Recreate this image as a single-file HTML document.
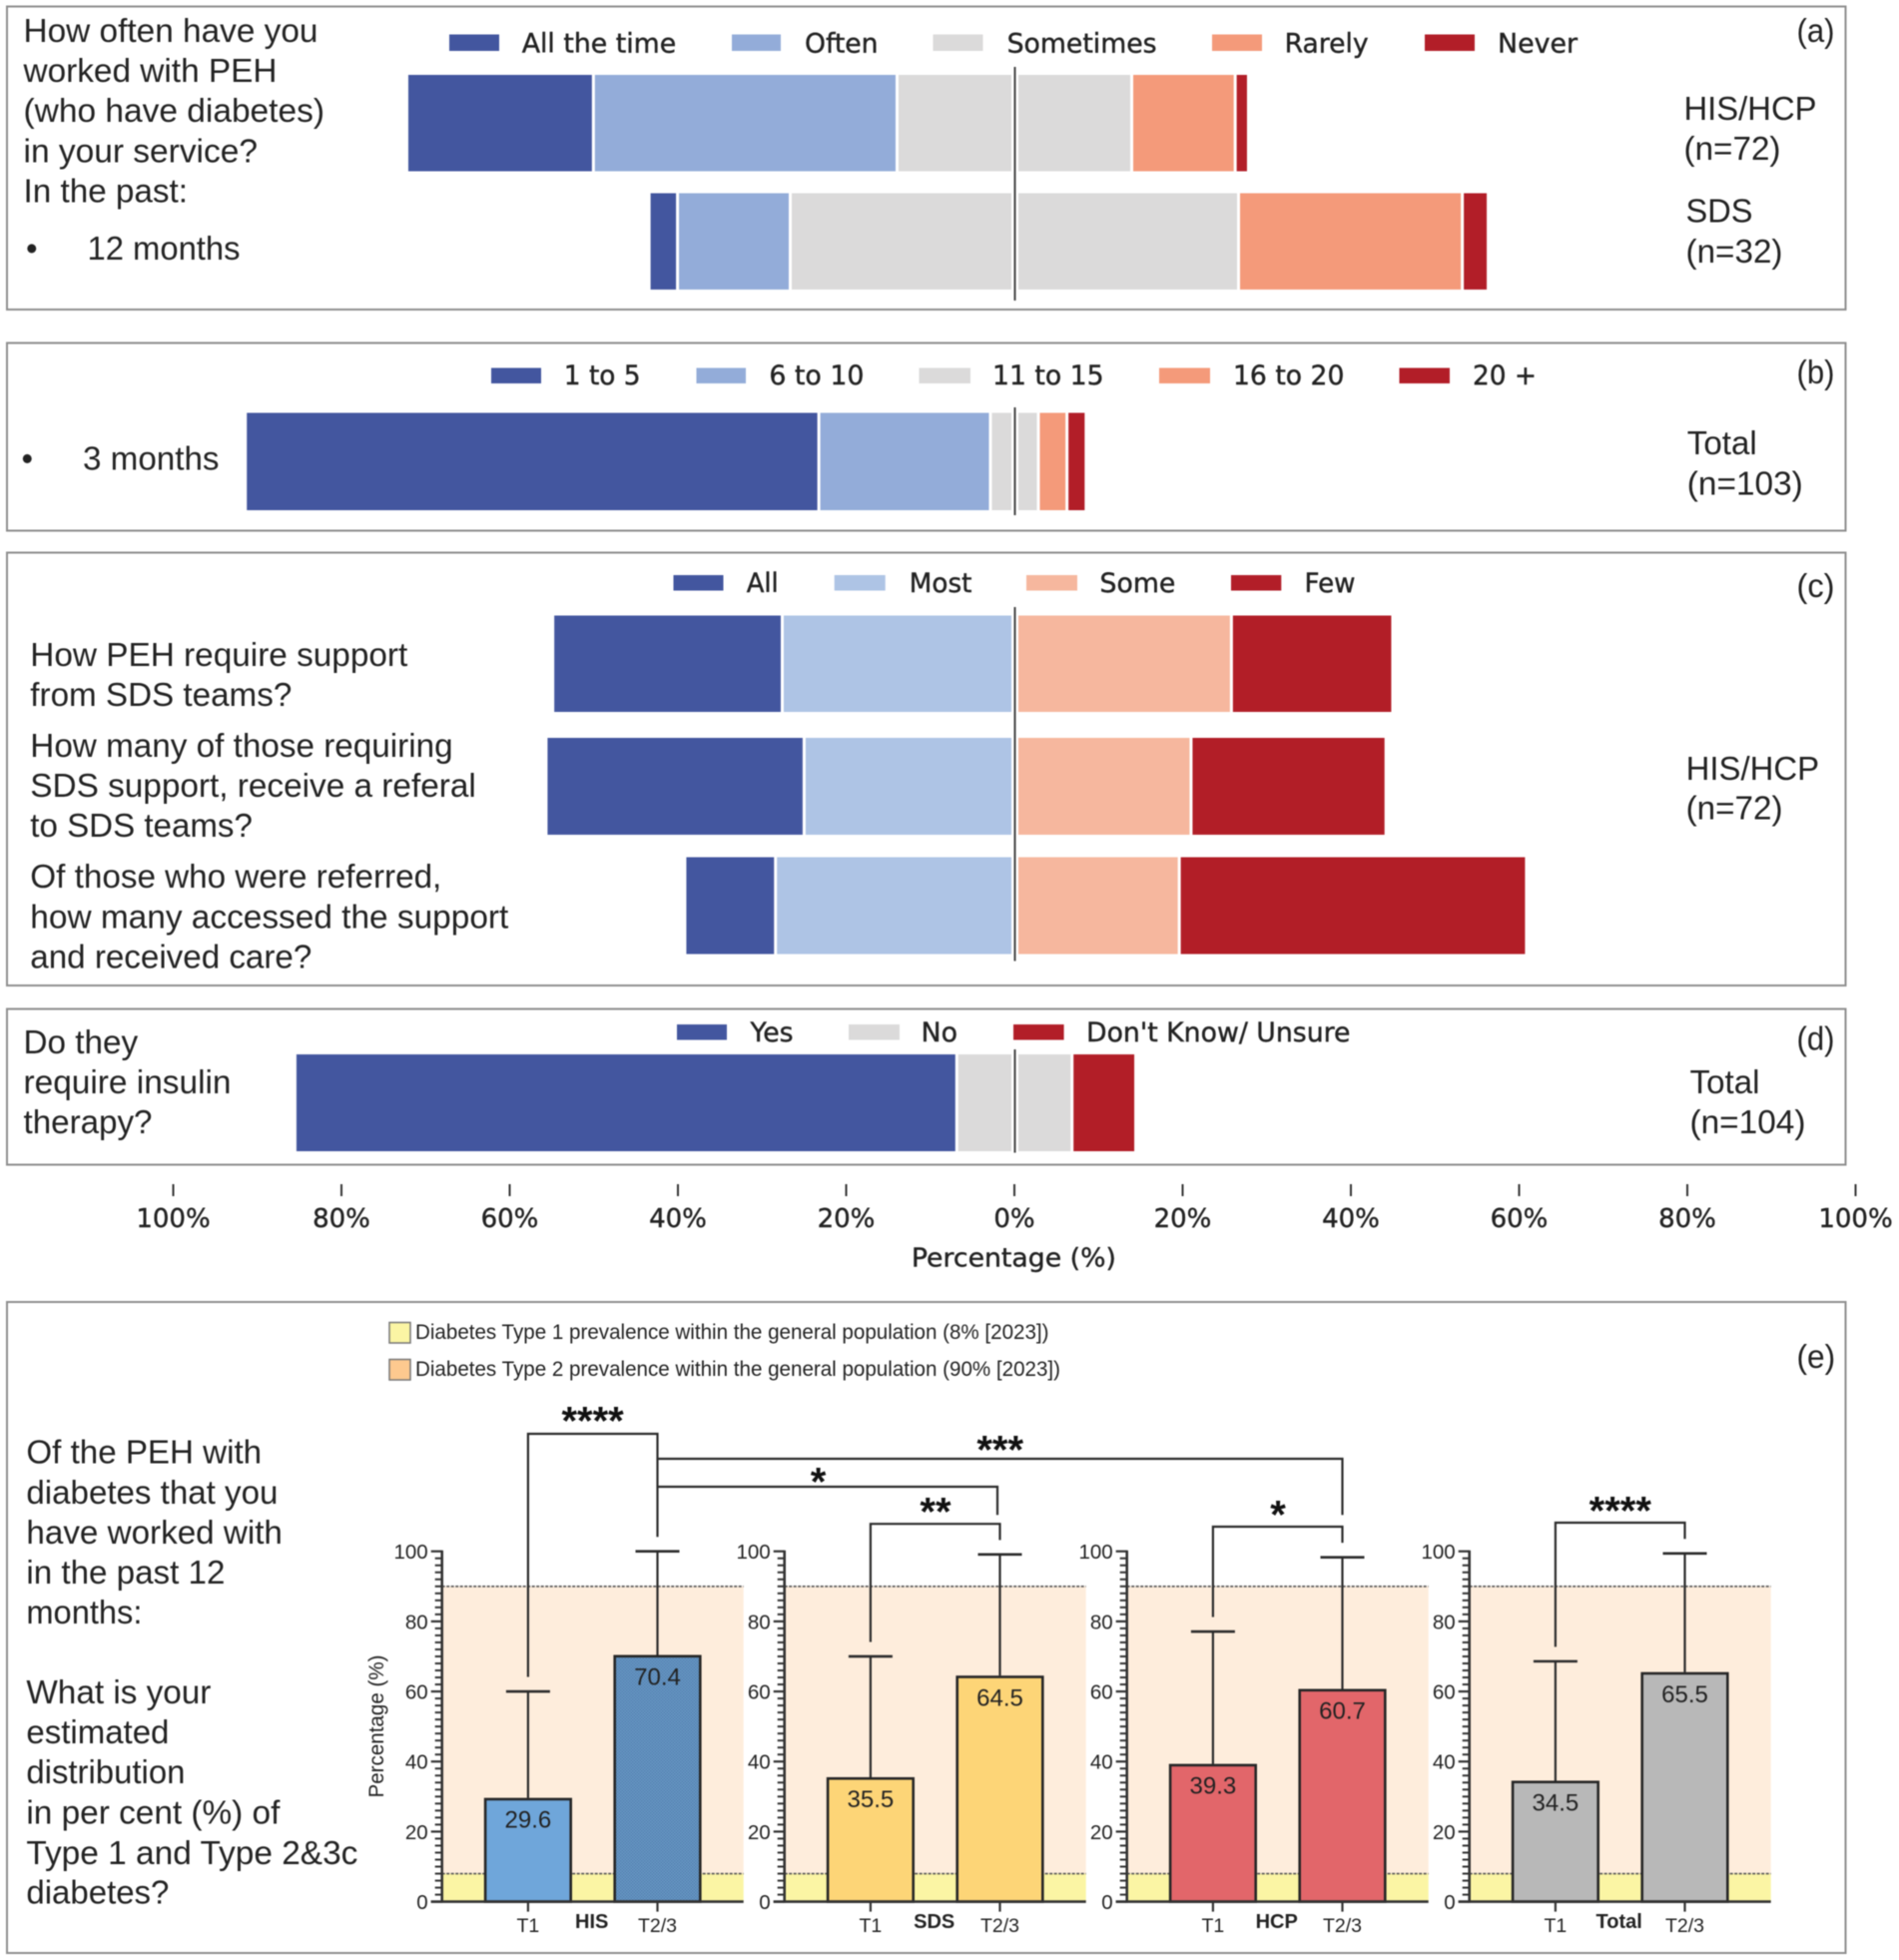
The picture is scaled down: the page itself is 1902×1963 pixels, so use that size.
<!DOCTYPE html>
<html lang="en">
<head>
<meta charset="utf-8">
<title>Likert survey panels and diabetes type distribution</title>
<style>
html,body{margin:0;padding:0;background:#fff;width:1902px;height:1963px;overflow:hidden}
svg{display:block;filter:blur(.5px)}
text{fill:#222;white-space:pre}
.a{font-family:"Liberation Sans",Arial,sans-serif;font-size:33px}
.d{font-family:"DejaVu Sans",sans-serif;font-size:27px;stroke:#222;stroke-width:.4px}
.t{font-family:"DejaVu Sans",sans-serif;font-size:26px;stroke:#222;stroke-width:.4px}
.l{font-family:"Liberation Sans",Arial,sans-serif;font-size:21px}
.panel{fill:none;stroke:#8e8e8e;stroke-width:2}
</style>
</head>
<body>
<svg id="chart" xmlns="http://www.w3.org/2000/svg" width="1902" height="1963" viewBox="0 0 1902 1963">
<defs>
<pattern id="dots" width="3" height="3" patternUnits="userSpaceOnUse">
<rect width="3" height="3" fill="#6998c8"/>
<rect width="1.5" height="1.5" fill="#5583ae"/>
<rect x="1.5" y="1.5" width="1.5" height="1.5" fill="#5583ae"/>
</pattern>
</defs>

<rect class="panel" x="7" y="6.5" width="1841.5" height="303.5"/>
<rect class="panel" x="7" y="343.5" width="1841.5" height="188"/>
<rect class="panel" x="7" y="553.5" width="1841.5" height="433.5"/>
<rect class="panel" x="7" y="1010.5" width="1841.5" height="156"/>
<rect class="panel" x="7" y="1304" width="1841.5" height="652"/>

<g>
<text class="a" x="23.5" y="42" textLength="295" lengthAdjust="spacingAndGlyphs">How often have you</text>
<text class="a" x="23.5" y="82" textLength="254" lengthAdjust="spacingAndGlyphs">worked with PEH</text>
<text class="a" x="23.5" y="122" textLength="301.5" lengthAdjust="spacingAndGlyphs">(who have diabetes)</text>
<text class="a" x="23.5" y="162.5" textLength="234.5" lengthAdjust="spacingAndGlyphs">in your service?</text>
<text class="a" x="23.5" y="202.5" textLength="164.5" lengthAdjust="spacingAndGlyphs">In the past:</text>
<text class="a" x="26" y="260">•</text>
<text class="a" x="87.5" y="260" textLength="153" lengthAdjust="spacingAndGlyphs">12 months</text>
</g>
<g>
<rect x="450" y="34.5" width="50" height="16.5" fill="#43569f"/>
<text class="d" x="522.7" y="52.5" textLength="154.5" lengthAdjust="spacingAndGlyphs">All the time</text>
<rect x="733" y="34.5" width="49" height="16.5" fill="#93acd9"/>
<text class="d" x="806" y="52.5" textLength="73.5" lengthAdjust="spacingAndGlyphs">Often</text>
<rect x="934.5" y="34.5" width="50" height="16.5" fill="#dbdada"/>
<text class="d" x="1008.6" y="52.5" textLength="150" lengthAdjust="spacingAndGlyphs">Sometimes</text>
<rect x="1214" y="34.5" width="50" height="16.5" fill="#f49a7a"/>
<text class="d" x="1286.6" y="52.5" textLength="84" lengthAdjust="spacingAndGlyphs">Rarely</text>
<rect x="1427" y="34.5" width="50" height="16.5" fill="#b21e28"/>
<text class="d" x="1500" y="52.5" textLength="80" lengthAdjust="spacingAndGlyphs">Never</text>
</g>
<text class="a" x="1799.5" y="42" textLength="38" lengthAdjust="spacingAndGlyphs">(a)</text>
<text class="a" x="1686.5" y="120" textLength="133" lengthAdjust="spacingAndGlyphs">HIS/HCP</text>
<text class="a" x="1686.5" y="160" textLength="97" lengthAdjust="spacingAndGlyphs">(n=72)</text>
<text class="a" x="1688.5" y="222.5" textLength="67" lengthAdjust="spacingAndGlyphs">SDS</text>
<text class="a" x="1688.5" y="263" textLength="97" lengthAdjust="spacingAndGlyphs">(n=32)</text>

<g>
<rect x="492" y="368.5" width="50" height="15.5" fill="#43569f"/>
<text class="d" x="564.8" y="385" textLength="76.8" lengthAdjust="spacingAndGlyphs">1 to 5</text>
<rect x="697.5" y="368.5" width="49.5" height="15.5" fill="#93acd9"/>
<text class="d" x="770.4" y="385" textLength="95" lengthAdjust="spacingAndGlyphs">6 to 10</text>
<rect x="920.5" y="368.5" width="51.5" height="15.5" fill="#dbdada"/>
<text class="d" x="994" y="385" textLength="111.6" lengthAdjust="spacingAndGlyphs">11 to 15</text>
<rect x="1161" y="368.5" width="51" height="15.5" fill="#f49a7a"/>
<text class="d" x="1235" y="385" textLength="111.4" lengthAdjust="spacingAndGlyphs">16 to 20</text>
<rect x="1401.5" y="368.5" width="50.5" height="15.5" fill="#b21e28"/>
<text class="d" x="1475" y="385" textLength="64" lengthAdjust="spacingAndGlyphs">20 +</text>
</g>
<text class="a" x="21.5" y="470.7">•</text>
<text class="a" x="83" y="470.7" textLength="136.5" lengthAdjust="spacingAndGlyphs">3 months</text>
<text class="a" x="1799.5" y="384" textLength="38" lengthAdjust="spacingAndGlyphs">(b)</text>
<text class="a" x="1689.8" y="455" textLength="70" lengthAdjust="spacingAndGlyphs">Total</text>
<text class="a" x="1689.8" y="495.5" textLength="116" lengthAdjust="spacingAndGlyphs">(n=103)</text>

<g>
<rect x="674.5" y="576" width="50" height="15.5" fill="#43569f"/>
<text class="d" x="747.7" y="592.8" textLength="32" lengthAdjust="spacingAndGlyphs">All</text>
<rect x="835.7" y="576" width="51" height="15.5" fill="#aec4e5"/>
<text class="d" x="910.8" y="592.8" textLength="62.6" lengthAdjust="spacingAndGlyphs">Most</text>
<rect x="1028" y="576" width="51" height="15.5" fill="#f6b79e"/>
<text class="d" x="1101.5" y="592.8" textLength="75.8" lengthAdjust="spacingAndGlyphs">Some</text>
<rect x="1233" y="576" width="50.3" height="15.5" fill="#b21e28"/>
<text class="d" x="1306.5" y="592.8" textLength="51" lengthAdjust="spacingAndGlyphs">Few</text>
</g>
<g>
<text class="a" x="30.3" y="667" textLength="378" lengthAdjust="spacingAndGlyphs">How PEH require support</text>
<text class="a" x="30.3" y="707" textLength="262" lengthAdjust="spacingAndGlyphs">from SDS teams?</text>
<text class="a" x="30.3" y="758" textLength="423.3" lengthAdjust="spacingAndGlyphs">How many of those requiring</text>
<text class="a" x="30.3" y="798" textLength="446.5" lengthAdjust="spacingAndGlyphs">SDS support, receive a referal</text>
<text class="a" x="30.3" y="838" textLength="222.6" lengthAdjust="spacingAndGlyphs">to SDS teams?</text>
<text class="a" x="30.3" y="889" textLength="412" lengthAdjust="spacingAndGlyphs">Of those who were referred,</text>
<text class="a" x="30.3" y="929.7" textLength="479" lengthAdjust="spacingAndGlyphs">how many accessed the support</text>
<text class="a" x="30.3" y="969.5" textLength="282" lengthAdjust="spacingAndGlyphs">and received care?</text>
</g>
<text class="a" x="1799.5" y="598" textLength="38" lengthAdjust="spacingAndGlyphs">(c)</text>
<text class="a" x="1688.6" y="781" textLength="133.5" lengthAdjust="spacingAndGlyphs">HIS/HCP</text>
<text class="a" x="1688.6" y="820.5" textLength="97" lengthAdjust="spacingAndGlyphs">(n=72)</text>

<g>
<rect x="678" y="1026" width="50" height="15.5" fill="#43569f"/>
<text class="d" x="751.5" y="1043" textLength="43" lengthAdjust="spacingAndGlyphs">Yes</text>
<rect x="850" y="1026" width="51" height="15.5" fill="#dbdada"/>
<text class="d" x="922.5" y="1043" textLength="36.5" lengthAdjust="spacingAndGlyphs">No</text>
<rect x="1015" y="1026" width="50.6" height="15.5" fill="#b21e28"/>
<text class="d" x="1088" y="1043" textLength="264.5" lengthAdjust="spacingAndGlyphs">Don't Know/ Unsure</text>
</g>
<g>
<text class="a" x="23.5" y="1055" textLength="114.7" lengthAdjust="spacingAndGlyphs">Do they</text>
<text class="a" x="23.5" y="1095" textLength="208" lengthAdjust="spacingAndGlyphs">require insulin</text>
<text class="a" x="23.5" y="1135" textLength="129" lengthAdjust="spacingAndGlyphs">therapy?</text>
</g>
<text class="a" x="1799.5" y="1051.5" textLength="38" lengthAdjust="spacingAndGlyphs">(d)</text>
<text class="a" x="1692.5" y="1095" textLength="70" lengthAdjust="spacingAndGlyphs">Total</text>
<text class="a" x="1692.5" y="1135" textLength="116" lengthAdjust="spacingAndGlyphs">(n=104)</text>

<text class="t" x="912.9" y="1268.5" textLength="205" lengthAdjust="spacingAndGlyphs">Percentage (%)</text>

<g>
<text class="a" x="26.4" y="1465.5" textLength="235.7" lengthAdjust="spacingAndGlyphs">Of the PEH with</text>
<text class="a" x="26.4" y="1506" textLength="252" lengthAdjust="spacingAndGlyphs">diabetes that you</text>
<text class="a" x="26.4" y="1546" textLength="256.5" lengthAdjust="spacingAndGlyphs">have worked with</text>
<text class="a" x="26.4" y="1586" textLength="199" lengthAdjust="spacingAndGlyphs">in the past 12</text>
<text class="a" x="26.4" y="1626" textLength="116" lengthAdjust="spacingAndGlyphs">months:</text>
<text class="a" x="26.4" y="1706" textLength="185" lengthAdjust="spacingAndGlyphs">What is your</text>
<text class="a" x="26.4" y="1746" textLength="143" lengthAdjust="spacingAndGlyphs">estimated</text>
<text class="a" x="26.4" y="1786" textLength="159" lengthAdjust="spacingAndGlyphs">distribution</text>
<text class="a" x="26.4" y="1826.5" textLength="254" lengthAdjust="spacingAndGlyphs">in per cent (%) of</text>
<text class="a" x="26.4" y="1867" textLength="332" lengthAdjust="spacingAndGlyphs">Type 1 and Type 2&amp;3c</text>
<text class="a" x="26.4" y="1906.5" textLength="143" lengthAdjust="spacingAndGlyphs">diabetes?</text>
</g>
<g>
<rect x="390" y="1324.5" width="21" height="20.5" fill="#fbf5a4" stroke="#777" stroke-width="1.5"/>
<text class="l" x="416" y="1341" textLength="634.5" lengthAdjust="spacingAndGlyphs">Diabetes Type 1 prevalence within the general population (8% [2023])</text>
<rect x="390" y="1361.5" width="21" height="20.5" fill="#fdc98f" stroke="#777" stroke-width="1.5"/>
<text class="l" x="416" y="1378" textLength="646" lengthAdjust="spacingAndGlyphs">Diabetes Type 2 prevalence within the general population (90% [2023])</text>
</g>
<text class="a" x="1799.5" y="1370" textLength="38.7" lengthAdjust="spacingAndGlyphs">(e)</text>
<text class="l" x="384" y="1729" text-anchor="middle" textLength="143" lengthAdjust="spacingAndGlyphs" transform="rotate(-90 384 1729)">Percentage (%)</text>
</svg>

<script>
// Panel (a): how often, past 12 months
const frequencyLabels = ['All the time', 'Often', 'Sometimes', 'Rarely', 'Never'];
const hisHcpFrequency = [22.0, 36.1, 27.9, 12.3, 1.4];
const sdsFrequency = [3.2, 13.4, 53.3, 26.6, 2.9];
// Panel (b): past 3 months
const countLabels = ['1 to 5', '6 to 10', '11 to 15', '16 to 20', '20 +'];
const threeMonthCounts = [68.0, 20.4, 5.7, 3.4, 2.1];
// Panel (c): support and referral
const shareLabels = ['All', 'Most', 'Some', 'Few'];
const requireSupport = [27.1, 27.6, 25.8, 19.0];
const receiveReferral = [30.5, 25.0, 21.0, 23.0];
const accessedSupport = [10.6, 28.4, 19.6, 41.1];
// Panel (d): insulin therapy
const insulinLabels = ['Yes', 'No', "Don't Know/ Unsure"];
const insulinTherapy = [78.5, 13.7, 7.4];
// Shared percentage axis
const percentTicks = [-100, -80, -60, -40, -20, 0, 20, 40, 60, 80, 100];
// Panel (e): bar charts
const groupNames = ['HIS', 'SDS', 'HCP', 'Total'];
const barCategories = ['T1', 'T2/3'];
const t1Means = [29.6, 35.5, 39.3, 34.5];
const t23Means = [70.4, 64.5, 60.7, 65.5];
const t1Upper = [60, 70, 77.1, 68.6];
const t23Upper = [100, 99.1, 98.3, 99.4];
const yTickValues = [0, 20, 40, 60, 80, 100];
const type1Prevalence = 8;
const type2Prevalence = 90;

const svg = document.getElementById('chart');
const NS = 'http://www.w3.org/2000/svg';
function mk(tag, attrs, parent) {
  const el = document.createElementNS(NS, tag);
  for (const k in attrs) el.setAttribute(k, attrs[k]);
  (parent || svg).appendChild(el);
  return el;
}
function slug(s) { return s.toLowerCase().replace(/[^a-z0-9]+/g, '-').replace(/^-|-$/g, ''); }

// ---- shared horizontal percentage scale ----
const xPct = v => 1016 + v * 8.425;

const palette5 = ['#43569f', '#93acd9', '#dbdada', '#f49a7a', '#b21e28'];
const palette4 = ['#43569f', '#aec4e5', '#f6b79e', '#b21e27'];
const palette3 = ['#43569f', '#dbdada', '#b21e27'];

// Diverging stack: centred on the neutral category when there is one
function drawStack(values, labels, colors, top, bottom, rowName) {
  const n = values.length;
  let left = 0;
  if (n % 2 === 1) {
    const mid = (n - 1) / 2;
    for (let i = 0; i < mid; i++) left += values[i];
    left += values[mid] / 2;
  } else {
    for (let i = 0; i < n / 2; i++) left += values[i];
  }
  let cur = -left;
  values.forEach((v, i) => {
    const x0 = xPct(cur) + (i === 0 ? 0 : 1.5);
    const x1 = xPct(cur + v) - (i === n - 1 ? 0 : 1.5);
    const seg = mk('rect', { x: x0, y: top, width: Math.max(0, x1 - x0), height: bottom - top, fill: colors[i] });
    
    
    cur += v;
  });
}
function zeroLine(y0, y1, name) {
  const halo = mk('line', { x1: xPct(0) + .5, x2: xPct(0) + .5, y1: y0, y2: y1, stroke: '#fff', 'stroke-width': 7 });
  
  
  const line = mk('line', { x1: xPct(0) + .5, x2: xPct(0) + .5, y1: y0, y2: y1, stroke: '#444', 'stroke-width': 2 });
  
  
}

drawStack(hisHcpFrequency, frequencyLabels, palette5, 75, 171.5, 'his-hcp');
drawStack(sdsFrequency, frequencyLabels, palette5, 193.5, 290, 'sds');
zeroLine(67, 301, 'zero-line-a');
drawStack(threeMonthCounts, countLabels, palette5, 413.5, 511, 'three-months');
zeroLine(408, 516, 'zero-line-b');
drawStack(requireSupport, shareLabels, palette4, 616.5, 713, 'require-support');
drawStack(receiveReferral, shareLabels, palette4, 739, 836, 'receive-referral');
drawStack(accessedSupport, shareLabels, palette4, 858.5, 955.5, 'accessed-support');
zeroLine(608, 962.5, 'zero-line-c');
drawStack(insulinTherapy, insulinLabels, palette3, 1056, 1153, 'insulin');
zeroLine(1051, 1154.5, 'zero-line-d');

// ---- shared x axis ticks ----
percentTicks.forEach(v => {
  const tick = mk('line', { x1: xPct(v), x2: xPct(v), y1: 1186, y2: 1198, stroke: '#333', 'stroke-width': 2 });
  
  
  const label = mk('text', { x: xPct(v), y: 1228.8, 'text-anchor': 'middle', class: 't' });
  label.textContent = Math.abs(v) + '%';
  
  
});

// ---- panel (e) bar charts ----
const yPct = v => 1904.6 - v * 3.509;
const chartLeft = i => 442.7 + i * 343;
const barCenter = (g, c) => chartLeft(g) + (c === 0 ? 86.2 : 215.8);
const barFills = [['#6fa6da', 'url(#dots)'], ['#fdd577', '#fdd577'], ['#e2666a', '#e2666a'], ['#b8b8b8', '#b8b8b8']];
const BAR_W = 85.6, PLOT_W = 302, CAP = 22;

groupNames.forEach((name, g) => {
  const L = chartLeft(g);
  const key = slug(name);
  const band2 = mk('rect', { x: L, y: yPct(type2Prevalence), width: PLOT_W, height: yPct(type1Prevalence) - yPct(type2Prevalence), fill: '#feeddc' });
  
  
  const band1 = mk('rect', { x: L, y: yPct(type1Prevalence), width: PLOT_W, height: yPct(0) - yPct(type1Prevalence), fill: '#fbf5a4' });
  
  
  [type2Prevalence, type1Prevalence].forEach(p => {
    const dash = mk('line', { x1: L, x2: L + PLOT_W, y1: yPct(p), y2: yPct(p), stroke: '#555', 'stroke-width': 1.6, 'stroke-dasharray': '3 1.5' });
    
    
  });

  const means = [t1Means[g], t23Means[g]];
  const uppers = [t1Upper[g], t23Upper[g]];
  barCategories.forEach((cat, c) => {
    const cx = barCenter(g, c);
    const whisker = mk('line', { x1: cx, x2: cx, y1: yPct(means[c]), y2: yPct(uppers[c]), stroke: '#2b2b2b', 'stroke-width': 2.2 });
    
    
    const cap = mk('line', { x1: cx - CAP, x2: cx + CAP, y1: yPct(uppers[c]), y2: yPct(uppers[c]), stroke: '#2b2b2b', 'stroke-width': 2.6 });
    
    
    const barTop = yPct(means[c]) + 1.2;
    const bar = mk('rect', { x: cx - BAR_W / 2, y: barTop, width: BAR_W, height: yPct(0) - barTop, fill: barFills[g][c], stroke: '#262626', 'stroke-width': 2.6 });
    
    
    const val = mk('text', { x: cx, y: yPct(means[c]) + 30, 'text-anchor': 'middle', class: 'l', style: 'font-size:24px' });
    val.textContent = means[c].toFixed(1);
    
    
    const xt = mk('line', { x1: cx, x2: cx, y1: yPct(0), y2: yPct(0) + 10, stroke: '#333', 'stroke-width': 2.2 });
    
    
    const xl = mk('text', { x: cx, y: 1935, 'text-anchor': 'middle', class: 'l', style: 'font-size:19.5px' });
    xl.textContent = cat;
    
    
  });

  const gl = mk('text', { x: L + 150, y: 1931, 'text-anchor': 'middle', class: 'l', style: 'font-size:20px;font-weight:bold' });
  gl.textContent = name;
  
  

  // axes
  const yAxis = mk('line', { x1: L, x2: L, y1: yPct(100) - 1, y2: yPct(0) + 1, stroke: '#333', 'stroke-width': 2.6 });
  
  
  const xAxis = mk('line', { x1: L - 11, x2: L + PLOT_W, y1: yPct(0), y2: yPct(0), stroke: '#333', 'stroke-width': 2.6 });
  
  
  for (let v = 2; v < 100; v += 2) {
    if (v % 20 === 0) continue;
    const minor = mk('line', { x1: L - 7, x2: L, y1: yPct(v), y2: yPct(v), stroke: '#333', 'stroke-width': 2 });
    
    
  }
  yTickValues.forEach(v => {
    const major = mk('line', { x1: L - 11, x2: L, y1: yPct(v), y2: yPct(v), stroke: '#333', 'stroke-width': 2.2 });
    
    
    const lab = mk('text', { x: L - 14, y: yPct(v) + 7.5, 'text-anchor': 'end', class: 'l', style: 'font-size:20.5px' });
    lab.textContent = v;
    
    
  });
});

// ---- significance brackets ----
function bracket(x0, x1, y, leg0, leg1, stars, starX, starY, name) {
  const path = mk('path', { d: 'M' + x0 + ' ' + leg0 + 'V' + y + 'H' + x1 + 'V' + leg1, fill: 'none', stroke: '#2b2b2b', 'stroke-width': 2.2 });
  
  
  const t = mk('text', { x: starX, y: starY, 'text-anchor': 'middle', class: 'l', style: 'font-size:40px;font-weight:bold;fill:#111' });
  t.textContent = stars;
  
  
}
const legEnd = (upper) => yPct(upper) - 14.5;
bracket(barCenter(0, 0), barCenter(0, 1), 1436, legEnd(t1Upper[0]), legEnd(t23Upper[0]), '****', 593.6, 1436.5, 'significance-his-t1-t2');
bracket(barCenter(0, 1), barCenter(2, 1), 1461, 1461, 1517.3, '***', 1001.7, 1465.5, 'significance-his-hcp');
bracket(barCenter(0, 1), barCenter(1, 1) - 2.5, 1489, 1489, 1517.3, '*', 819.6, 1497.5, 'significance-his-sds');
bracket(barCenter(1, 0), barCenter(1, 1), 1526.2, legEnd(t1Upper[1]), legEnd(t23Upper[1]), '**', 937, 1527.5, 'significance-sds-t1-t2');
bracket(barCenter(2, 0), barCenter(2, 1), 1529, legEnd(t1Upper[2]), legEnd(t23Upper[2]), '*', 1280, 1530.5, 'significance-hcp-t1-t2');
bracket(barCenter(3, 0), barCenter(3, 1), 1525, legEnd(t1Upper[3]), legEnd(t23Upper[3]), '****', 1622.8, 1526.5, 'significance-total-t1-t2');
</script>
</body>
</html>
